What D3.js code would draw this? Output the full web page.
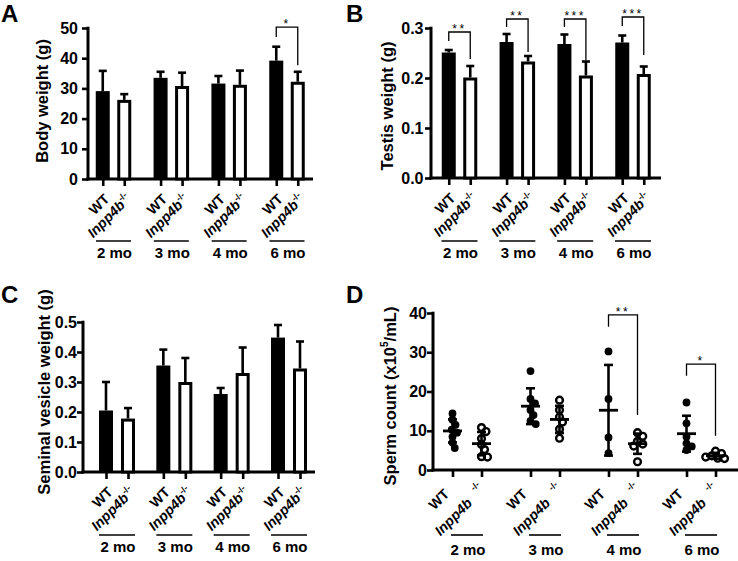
<!DOCTYPE html>
<html><head><meta charset="utf-8">
<script src="https://cdn.jsdelivr.net/npm/d3@7"></script>
<style>
body{margin:0;background:#fff;}
svg{display:block;font-family:"Liberation Sans",Arial,sans-serif;font-weight:bold;}
</style></head><body>
<svg id="c" width="738" height="561"></svg>
<script>
// ---------- data ----------
const groups = ["2 mo", "3 mo", "4 mo", "6 mo"];
const genotypes = ["WT", "Inpp4b"];

// Panel A: body weight (g), mean and SD
const bodyWT = [29.1, 33.5, 31.6, 39.2];
const bodyWTsd = [6.7, 2.0, 2.5, 4.6];
const bodyKO = [26.2, 30.8, 31.2, 32.2];
const bodyKOsd = [1.9, 4.4, 4.7, 3.3];
const bodyTicks = [0, 10, 20, 30, 40, 50];
const bodySig = [{group: "6 mo", label: "*", top: 50.3, left: 47.0, right: 37.7}];

// Panel B: testis weight (g)
const testisWT = [0.251, 0.272, 0.268, 0.271];
const testisWTsd = [0.005, 0.016, 0.019, 0.014];
const testisKO = [0.201, 0.233, 0.205, 0.208];
const testisKOsd = [0.023, 0.011, 0.028, 0.015];
const testisTicks = [0, 0.1, 0.2, 0.3];
const testisSig = [
  {group: "2 mo", label: "**", top: 0.292, left: 0.274, right: 0.238},
  {group: "3 mo", label: "**", top: 0.318, left: 0.302, right: 0.252},
  {group: "4 mo", label: "***", top: 0.318, left: 0.302, right: 0.236},
  {group: "6 mo", label: "***", top: 0.322, left: 0.304, right: 0.246}
];

// Panel C: seminal vesicle weight (g)
const svWT = [0.205, 0.355, 0.260, 0.448];
const svWTsd = [0.095, 0.053, 0.020, 0.042];
const svKO = [0.178, 0.300, 0.330, 0.345];
const svKOsd = [0.035, 0.080, 0.085, 0.090];
const svTicks = [0, 0.1, 0.2, 0.3, 0.4, 0.5];

// Panel D: sperm count (x10^5/mL), individual animals
const spermWT = [
  [14.4, 12.8, 11.5, 10.3, 9.5, 8.5, 7.0, 5.6],
  [25.2, 18.1, 17.0, 15.3, 14.0, 12.5, 11.7],
  [30.2, 18.1, 8.3, 4.3],
  [17.2, 11.9, 8.5, 6.8, 6.0, 5.1]
];
const spermKO = [
  [10.8, 9.8, 8.0, 6.5, 5.2, 3.4, 3.3],
  [17.8, 15.3, 13.5, 12.2, 10.4, 8.1],
  [9.5, 8.6, 7.3, 6.6, 6.1, 2.1],
  [4.8, 4.2, 3.6, 3.3, 3.0, 2.9]
];
const spermTicks = [0, 10, 20, 30, 40];
const spermSig = [
  {group: "4 mo", label: "**", top: 39.5, left: 36.5, right: 14.0},
  {group: "6 mo", label: "*", top: 27.0, left: 24.0, right: 8.7}
];

// ---------- drawing ----------
const svg = d3.select("#c");
const FONT = '"Liberation Sans",Arial,sans-serif';

function panel(cfg) {
  const g = svg.append("g");
  const y = d3.scaleLinear().domain(cfg.domain).range([cfg.y0, cfg.yTop]);
  const gx = d3.scalePoint().domain(groups).range([cfg.c1, cfg.c4]);
  const bx = d3.scalePoint().domain(genotypes).range([-cfg.off, cfg.off]);
  const X = (gi, gt) => gx(gi) + bx(gt);

  // y axis
  const ya = d3.axisLeft(y).tickValues(cfg.ticks).tickFormat(cfg.fmt).tickSize(6).tickPadding(cfg.pad).tickSizeOuter(0);
  const yg = g.append("g").attr("transform", `translate(${cfg.ax},0)`).call(ya);
  yg.select(".domain").remove();
  yg.selectAll(".tick line").attr("stroke", "#000").attr("stroke-width", 2.6);
  yg.selectAll(".tick text").attr("font-family", FONT).attr("font-weight", "bold").attr("font-size", 16).attr("fill", "#000");
  g.append("line").attr("x1", cfg.ax).attr("x2", cfg.ax).attr("y1", cfg.yTop - 1.3).attr("y2", cfg.y0 + 1.5)
    .attr("stroke", "#000").attr("stroke-width", 3);

  // x axis ticks (one per bar)
  const keys = [];
  groups.forEach(gr => genotypes.forEach(gt => keys.push({gr, gt})));
  const xs = d3.scaleOrdinal().domain(keys.map(k => k.gr + "|" + k.gt)).range(keys.map(k => X(k.gr, k.gt)));
  const xa = d3.axisBottom(xs).tickSize(7).tickSizeOuter(0).tickFormat("");
  const xg = g.append("g").attr("transform", `translate(0,${cfg.y0})`).call(xa);
  xg.select(".domain").remove();
  xg.selectAll(".tick line").attr("stroke", "#000").attr("stroke-width", 2.6);
  g.append("line").attr("x1", cfg.ax - 1.5).attr("x2", cfg.xEnd).attr("y1", cfg.y0).attr("y2", cfg.y0)
    .attr("stroke", "#000").attr("stroke-width", 3);

  // y title
  const t = g.append("text").attr("transform", `translate(${cfg.tx},${cfg.ty}) rotate(-90)`)
    .attr("text-anchor", "middle").attr("dominant-baseline", "central")
    .attr("font-size", 16.5).attr("font-weight", "bold");
  cfg.title.forEach(p => {
    const s = t.append("tspan").text(p.t);
    if (p.sup) s.attr("font-size", 10).attr("dy", -6);
    if (p.down) s.attr("dy", 6);
  });

  // panel letter
  g.append("text").attr("x", cfg.lx).attr("y", cfg.ly).attr("font-size", 24).attr("font-weight", "bold").text(cfg.letter);

  // x labels
  keys.forEach(k => {
    const x = X(k.gr, k.gt);
    if (k.gt === "WT") {
      g.append("text").attr("transform", `translate(${x + cfg.wtdx},${cfg.y0 + cfg.wtdy}) rotate(-45)`)
        .attr("text-anchor", "end").attr("font-size", 14).attr("font-weight", "bold").text("WT");
    } else if (!cfg.dStyle) {
      const tt = g.append("text").attr("transform", `translate(${x + cfg.kodx},${cfg.y0 + cfg.kody}) rotate(-45)`)
        .attr("text-anchor", "end").attr("font-size", 14).attr("font-weight", "bold");
      tt.append("tspan").attr("font-style", "italic").text("Inpp4b");
      tt.append("tspan").attr("font-size", 9).attr("dy", -6).text("-/-");
    } else {
      g.append("text").attr("transform", `translate(${x + cfg.kodx},${cfg.y0 + cfg.kody}) rotate(-45)`)
        .attr("text-anchor", "end").attr("font-size", 14).attr("font-weight", "bold").attr("font-style", "italic").text("Inpp4b");
      g.append("text").attr("transform", `translate(${x + cfg.supdx},${cfg.y0 + cfg.supdy}) rotate(-45)`)
        .attr("text-anchor", "middle").attr("dominant-baseline", "central").attr("font-size", 9).attr("font-weight", "bold").text("-/-");
    }
  });

  // group lines + labels
  groups.forEach(gr => {
    const c = gx(gr);
    g.append("line").attr("x1", c - cfg.gl).attr("x2", c + cfg.gl).attr("y1", cfg.y0 + cfg.lineDy).attr("y2", cfg.y0 + cfg.lineDy)
      .attr("stroke", "#000").attr("stroke-width", 1.6);
    g.append("text").attr("x", c + 1).attr("y", cfg.y0 + cfg.labDy).attr("text-anchor", "middle")
      .attr("font-size", 15).attr("font-weight", "bold").text(gr);
  });

  // significance brackets
  (cfg.sig || []).forEach(s => {
    const xl = X(s.group, "WT"), xr = X(s.group, "Inpp4b");
    g.append("path").attr("d", `M${xl},${y(s.left)}V${y(s.top)}H${xr}V${y(s.right)}`)
      .attr("fill", "none").attr("stroke", "#000").attr("stroke-width", 1.3);
    g.append("text").attr("x", (xl + xr) / 2).attr("y", y(s.top) + 1).attr("text-anchor", "middle")
      .attr("font-size", 12).attr("font-weight", "normal").attr("letter-spacing", 2.5).text(s.label);
  });

  return {g, y, X};
}

function bars(p, wt, wtsd, ko, kosd) {
  const {g, y, X} = p;
  const data = [];
  groups.forEach((gr, i) => {
    data.push({gr, gt: "WT", v: wt[i], sd: wtsd[i]});
    data.push({gr, gt: "Inpp4b", v: ko[i], sd: kosd[i]});
  });
  const W = 14;
  data.forEach(d => {
    const x = X(d.gr, d.gt);
    g.append("line").attr("x1", x).attr("x2", x).attr("y1", y(d.v)).attr("y2", y(d.v + d.sd))
      .attr("stroke", "#000").attr("stroke-width", 2.6);
    g.append("line").attr("x1", x - 4).attr("x2", x + 4).attr("y1", y(d.v + d.sd)).attr("y2", y(d.v + d.sd))
      .attr("stroke", "#000").attr("stroke-width", 2.6);
  });
  data.forEach(d => {
    const x = X(d.gr, d.gt);
    if (d.gt === "WT") {
      g.append("rect").attr("x", x - W / 2).attr("width", W).attr("y", y(d.v)).attr("height", y(0) - y(d.v)).attr("fill", "#000");
    } else {
      g.append("rect").attr("x", x - W / 2 + 1.5).attr("width", W - 3).attr("y", y(d.v) + 1.5).attr("height", y(0) - y(d.v) - 1.5)
        .attr("fill", "#fff").attr("stroke", "#000").attr("stroke-width", 3);
    }
  });
}

function dodge(vals, y, minD) {
  const placed = [];
  const order = vals.map((v, i) => ({v, i})).sort((a, b) => b.v - a.v);
  const out = new Array(vals.length);
  order.forEach(o => {
    const py = y(o.v);
    let best = 0;
    for (let k = 0; k < 40; k++) {
      const cand = (k % 2 ? 1 : -1) * Math.ceil(k / 2) * 0.75;
      const ok = placed.every(p => Math.hypot(p.x - cand, p.y - py) >= minD);
      if (ok) { best = cand; break; }
    }
    placed.push({x: best, y: py});
    out[o.i] = best;
  });
  return out;
}

function scatter(p, wt, ko) {
  const {g, y, X} = p;
  groups.forEach((gr, i) => {
    [["WT", wt[i]], ["Inpp4b", ko[i]]].forEach(([gt, vals]) => {
      const x = X(gr, gt);
      const m = d3.mean(vals), sd = d3.deviation(vals);
      const offs = dodge(vals, y, 5.8);
      g.append("line").attr("x1", x).attr("x2", x).attr("y1", y(m - sd)).attr("y2", y(m + sd)).attr("stroke", "#000").attr("stroke-width", 2.6);
      [m - sd, m + sd].forEach(v => g.append("line").attr("x1", x - 4.5).attr("x2", x + 4.5).attr("y1", y(v)).attr("y2", y(v))
        .attr("stroke", "#000").attr("stroke-width", 2.6));
      g.append("line").attr("x1", x - 9.5).attr("x2", x + 9.5).attr("y1", y(m)).attr("y2", y(m)).attr("stroke", "#000").attr("stroke-width", 2.8);
      vals.forEach((v, j) => {
        const c = g.append("circle").attr("cx", x + offs[j]).attr("cy", y(v));
        if (gt === "WT") c.attr("r", 3.9).attr("fill", "#000");
        else c.attr("r", 3.4).attr("fill", "none").attr("stroke", "#000").attr("stroke-width", 2.4);
      });
    });
  });
}

const fmtInt = d3.format("d"), fmt1 = d3.format(".1f");

const pA = panel({letter: "A", lx: 1, ly: 22, domain: [0, 50], ticks: bodyTicks, fmt: fmtInt, pad: 4,
  ax: 88, y0: 179, yTop: 28, xEnd: 313, c1: 113.5, c4: 287, off: 10.75,
  tx: 42, ty: 101, title: [{t: "Body weight (g)"}],
  wtdx: 7.5, wtdy: 21, kodx: 7.5, kody: 21, gl: 17.5, lineDy: 62, labDy: 79, sig: bodySig});
bars(pA, bodyWT, bodyWTsd, bodyKO, bodyKOsd);

const pB = panel({letter: "B", lx: 346, ly: 22, domain: [0, 0.3], ticks: testisTicks, fmt: fmt1, pad: 1.5,
  ax: 431, y0: 178, yTop: 28, xEnd: 661, c1: 459.5, c4: 633, off: 10.75,
  tx: 387, ty: 106, title: [{t: "Testis weight (g)"}],
  wtdx: 7.5, wtdy: 21, kodx: 7.5, kody: 21, gl: 18, lineDy: 63, labDy: 80, sig: testisSig});
bars(pB, testisWT, testisWTsd, testisKO, testisKOsd);

const pC = panel({letter: "C", lx: 1, ly: 303, domain: [0, 0.5], ticks: svTicks, fmt: fmt1, pad: 0,
  ax: 83, y0: 472, yTop: 322, xEnd: 315, c1: 117, c4: 289, off: 11,
  tx: 44, ty: 392, title: [{t: "Seminal vesicle weight (g)"}],
  wtdx: 7.5, wtdy: 21, kodx: 7.5, kody: 21, gl: 18, lineDy: 63, labDy: 80, sig: []});
bars(pC, svWT, svWTsd, svKO, svKOsd);

const pD = panel({letter: "D", lx: 346, ly: 303, domain: [0, 40], ticks: spermTicks, fmt: fmtInt, pad: 0,
  ax: 433, y0: 470, yTop: 313, xEnd: 738, c1: 467, c4: 701, off: 14.5, dStyle: true,
  tx: 390, ty: 396, title: [{t: "Sperm count (x10"}, {t: "5", sup: true}, {t: "/mL)", down: true}],
  wtdx: -2.5, wtdy: 25, kodx: -8.5, kody: 34, supdx: -6.5, supdy: 16, gl: 16, lineDy: 65, labDy: 85, sig: spermSig});
scatter(pD, spermWT, spermKO);
</script>
</body></html>
